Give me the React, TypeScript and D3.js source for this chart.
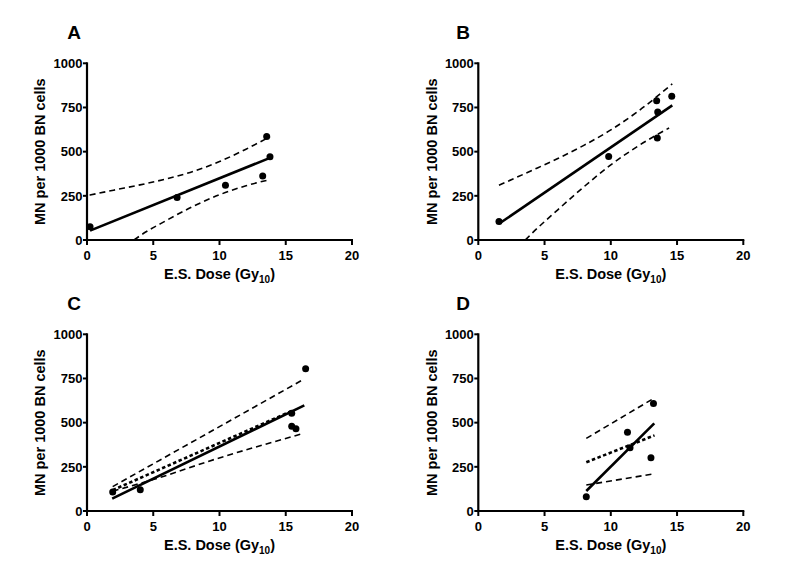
import React from "react";
import * as d3 from "d3";

type P = [number, number];

// ---- Data ----
const xTicks = [0, 5, 10, 15, 20];
const yTicks = [0, 250, 500, 750, 1000];
const panelLetters = ["A", "B", "C", "D"];
const xTitle = "E.S. Dose (Gy";
const xTitleSub = "10";
const yTitle = "MN per 1000 BN cells";

const pointsA: P[] = [[0.23, 75], [6.8, 240], [10.45, 310], [13.26, 362], [13.56, 586], [13.81, 471]];
const fitA: P[] = [[0.23, 53], [13.81, 465]];
const upperA: P[] = [[0.2, 254], [2, 282], [4, 312], [6, 346], [8, 388], [10, 444], [12, 514], [13.81, 585]];
const lowerA: P[] = [[3.55, 0], [4, 24], [6, 111], [8, 190], [10, 256], [12, 307], [13.81, 342]];

const pointsB: P[] = [[1.56, 104], [9.84, 472], [13.46, 788], [13.54, 724], [13.51, 577], [14.6, 813]];
const fitB: P[] = [[1.56, 92], [14.64, 762]];
const upperB: P[] = [[1.56, 310], [4, 392], [6, 461], [8, 537], [10, 623], [12, 725], [14.64, 884]];
const lowerB: P[] = [[3.55, 0], [4, 34], [6, 171], [8, 303], [10, 425], [12, 529], [14.4, 634]];

const pointsC: P[] = [[1.94, 107], [4.02, 120], [15.45, 553], [15.45, 480], [15.77, 465], [16.5, 805]];
const fitC: P[] = [[1.9, 70], [16.4, 598]];
const altFitC: P[] = [[1.94, 118], [15.45, 566]];
const upperC: P[] = [[1.94, 138], [16.25, 741]];
const lowerC: P[] = [[1.94, 112], [5, 178], [9.8, 296], [16.1, 434]];

const pointsD: P[] = [[8.15, 81], [11.26, 445], [11.45, 358], [13.03, 302], [13.22, 608]];
const fitD: P[] = [[8.15, 113], [13.28, 496]];
const altFitD: P[] = [[8.15, 276], [13.3, 428]];
const upperD: P[] = [[8.15, 411], [13.3, 640]];
const lowerD: P[] = [[8.15, 147], [13.3, 211]];

const panelData = [
  { points: pointsA, fit: fitA, alt: null as P[] | null, upper: upperA, lower: lowerA },
  { points: pointsB, fit: fitB, alt: null as P[] | null, upper: upperB, lower: lowerB },
  { points: pointsC, fit: fitC, alt: altFitC, upper: upperC, lower: lowerC },
  { points: pointsD, fit: fitD, alt: altFitD, upper: upperD, lower: lowerD },
];

// ---- Layout ----
const layout = [
  { left: 87, right: 352, top: 63.3, bottom: 240, letterX: 74, letterY: 38.5 },
  { left: 478.3, right: 743.3, top: 63.3, bottom: 240, letterX: 463, letterY: 38.5 },
  { left: 87, right: 352, top: 334.3, bottom: 511, letterX: 74, letterY: 310 },
  { left: 478.3, right: 743.3, top: 334.3, bottom: 511, letterX: 463, letterY: 310 },
];

const FONT = "'Liberation Sans', Arial, Helvetica, sans-serif";

function Panel({ idx }: { idx: number }) {
  const L = layout[idx];
  const D = panelData[idx];
  const x = d3.scaleLinear().domain([0, 20]).range([L.left, L.right]);
  const y = d3.scaleLinear().domain([0, 1000]).range([L.bottom, L.top]);
  const straight = d3.line<P>().x((d) => x(d[0])).y((d) => y(d[1]));
  const curved = d3
    .line<P>()
    .x((d) => x(d[0]))
    .y((d) => y(d[1]))
    .curve(d3.curveMonotoneX);
  const midX = (L.left + L.right) / 2;
  const midY = (L.top + L.bottom) / 2;
  const ytX = L.left - 47;
  return (
    <g fontFamily={FONT} fontWeight="bold" fill="#000">
      <text x={L.letterX} y={L.letterY} fontSize={19} textAnchor="middle">
        {panelLetters[idx]}
      </text>
      {/* bands */}
      <path d={curved(D.upper) || ""} fill="none" stroke="#000" strokeWidth={1.6} strokeDasharray="6,4" />
      <path d={curved(D.lower) || ""} fill="none" stroke="#000" strokeWidth={1.6} strokeDasharray="6,4" />
      {D.alt && (
        <path d={straight(D.alt) || ""} fill="none" stroke="#000" strokeWidth={2.6} strokeDasharray="3.5,2.5" />
      )}
      <path d={straight(D.fit) || ""} fill="none" stroke="#000" strokeWidth={2.6} />
      {D.points.map((p, i) => (
        <circle key={i} cx={x(p[0])} cy={y(p[1])} r={3.5} fill="#000" />
      ))}
      {/* axes */}
      <line x1={L.left} x2={L.left} y1={L.top - 1} y2={L.bottom + 1} stroke="#000" strokeWidth={2.2} />
      <line x1={L.left - 1} x2={L.right + 1} y1={L.bottom} y2={L.bottom} stroke="#000" strokeWidth={2.2} />
      {yTicks.map((t) => (
        <g key={"y" + t}>
          <line x1={L.left - 4} x2={L.left} y1={y(t)} y2={y(t)} stroke="#000" strokeWidth={2} />
          <text x={L.left - 4.5} y={y(t)} dy="0.36em" fontSize={13} textAnchor="end">
            {t}
          </text>
        </g>
      ))}
      {xTicks.map((t) => (
        <g key={"x" + t}>
          <line x1={x(t)} x2={x(t)} y1={L.bottom} y2={L.bottom + 5} stroke="#000" strokeWidth={2} />
          <text x={x(t)} y={L.bottom + 20} fontSize={13} textAnchor="middle">
            {t}
          </text>
        </g>
      ))}
      <text x={midX} y={L.bottom + 38.5} fontSize={14.5} textAnchor="middle">
        {xTitle}
        <tspan dy={4} fontSize={10}>
          {xTitleSub}
        </tspan>
        <tspan dy={-4}>)</tspan>
      </text>
      <text
        transform={`translate(${ytX},${midY}) rotate(-90)`}
        fontSize={14.5}
        textAnchor="middle"
        dy="0.36em"
      >
        {yTitle}
      </text>
    </g>
  );
}

export default function App() {
  return (
    <svg
      width={800}
      height={587}
      viewBox="0 0 800 587"
      style={{ position: "absolute", left: 0, top: 0, background: "#fff" }}
    >
      <rect width={800} height={587} fill="#fff" />
      {[0, 1, 2, 3].map((i) => (
        <Panel key={i} idx={i} />
      ))}
    </svg>
  );
}
